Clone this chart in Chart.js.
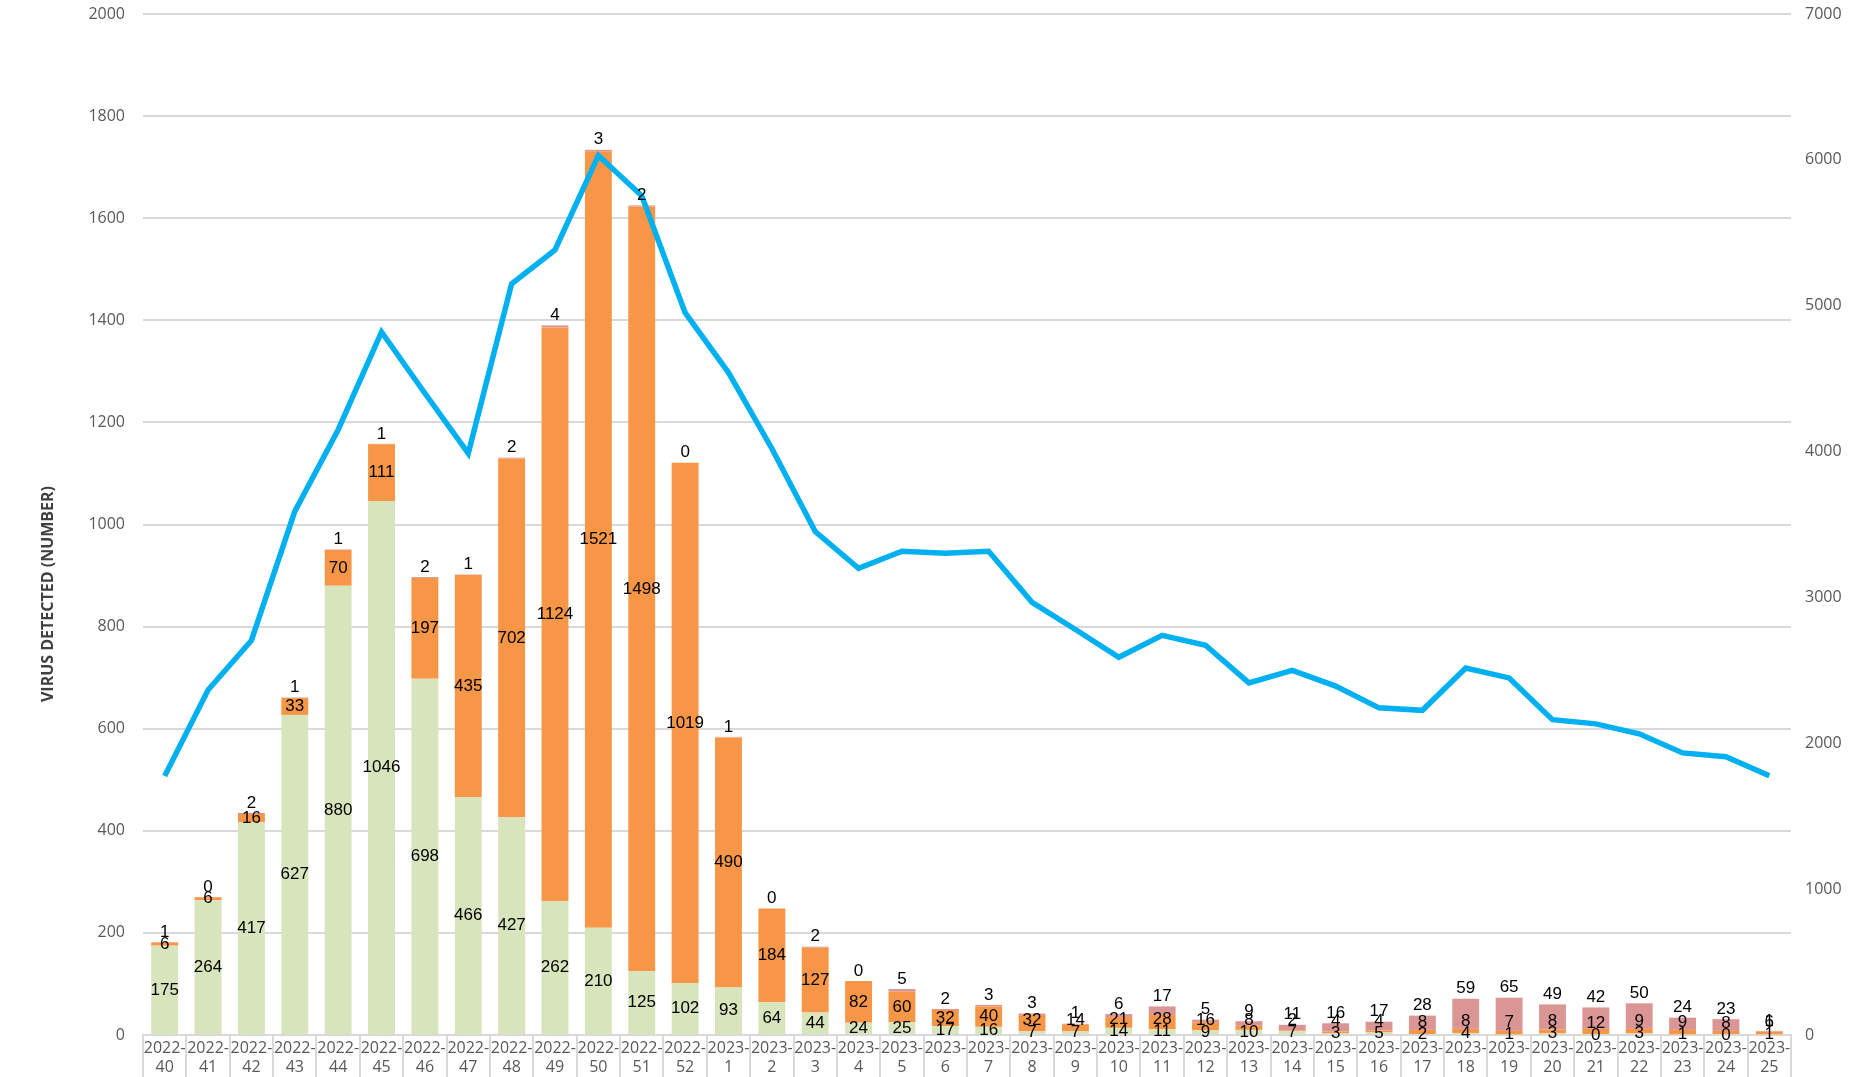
<!DOCTYPE html>
<html>
<head>
<meta charset="utf-8">
<script src="https://cdn.jsdelivr.net/npm/chart.js@4.4.1/dist/chart.umd.min.js"></script>
<style>
  html, body { margin: 0; padding: 0; background: #fff; }
  #wrap { width: 1865px; height: 1077px; }
</style>
</head>
<body>
<div id="wrap"><canvas id="chart"></canvas></div>
<script>
// ISO weeks, 2022-40 .. 2023-25
const weeks = [
    '2022-40', '2022-41', '2022-42', '2022-43', '2022-44', '2022-45', '2022-46',
    '2022-47', '2022-48', '2022-49', '2022-50', '2022-51', '2022-52',
    '2023-1', '2023-2', '2023-3', '2023-4', '2023-5', '2023-6', '2023-7',
    '2023-8', '2023-9', '2023-10', '2023-11', '2023-12', '2023-13', '2023-14',
    '2023-15', '2023-16', '2023-17', '2023-18', '2023-19', '2023-20', '2023-21',
    '2023-22', '2023-23', '2023-24', '2023-25'
];

// stacked bars, left axis (number of detections)
const greenValues = [
    175, 264, 417, 627, 880, 1046, 698, 466, 427, 262, 210, 125, 102,
    93, 64, 44, 24, 25, 17, 16, 7, 7, 14, 11, 9, 10, 7, 3, 5, 2, 4, 1, 3, 0, 3, 1, 0, 1
];
const orangeValues = [
    6, 6, 16, 33, 70, 111, 197, 435, 702, 1124, 1521, 1498, 1019,
    490, 184, 127, 82, 60, 32, 40, 32, 14, 21, 28, 16, 8, 2, 4, 4, 8, 8, 7, 8, 12, 9, 9, 8, 6
];
const pinkValues = [
    1, 0, 2, 1, 1, 1, 2, 1, 2, 4, 3, 2, 0,
    1, 0, 2, 0, 5, 2, 3, 3, 1, 6, 17, 5, 9, 11, 16, 17, 28, 59, 65, 49, 42, 50, 24, 23, 1
];

// line, right axis
const lineValues = [
    1775, 2365, 2705, 3590, 4150, 4820, 4400, 3988, 5150, 5382, 6030, 5754, 4952,
    4542, 4021, 3452, 3200, 3317, 3303, 3317, 2966, 2780, 2590, 2740, 2672, 2414,
    2500, 2392, 2243, 2226, 2516, 2448, 2162, 2133, 2065, 1934, 1908, 1778
];

const leftTicks = { min: 0, max: 2000, step: 200 };
const rightTicks = { min: 0, max: 7000, step: 1000 };
const yTitle = 'VIRUS DETECTED (NUMBER)';

const tickFont = { family: '"Open Sans", sans-serif', size: 16 };
const tickColor = '#595959';
const gridColor = '#D9D9D9';
const plainNumber = v => String(v);

// value labels on the stacked segments
const barLabels = {
    id: 'barLabels',
    afterDatasetsDraw(chart) {
        const ctx = chart.ctx;
        const g = chart.getDatasetMeta(0).data;
        const o = chart.getDatasetMeta(1).data;
        const p = chart.getDatasetMeta(2).data;
        ctx.save();
        ctx.font = '17px "Liberation Sans", sans-serif';
        ctx.fillStyle = '#000';
        ctx.textAlign = 'center';
        ctx.textBaseline = 'middle';
        g.forEach((bar, i) => {
            const gy = (bar.y + bar.base) / 2;
            const oy = Math.min((o[i].y + o[i].base) / 2, gy - 12);
            const py = p[i].y - 10;
            ctx.fillText(String(greenValues[i]), bar.x, gy);
            ctx.fillText(String(orangeValues[i]), o[i].x, oy);
            ctx.fillText(String(pinkValues[i]), p[i].x, py);
        });
        ctx.restore();
    }
};

const axisTitle = {
    id: 'axisTitle',
    afterDraw(chart) {
        const ctx = chart.ctx;
        ctx.save();
        ctx.translate(48, 594);
        ctx.rotate(-Math.PI / 2);
        ctx.font = 'bold 16px "Open Sans", sans-serif';
        ctx.fillStyle = '#404040';
        ctx.textAlign = 'center';
        ctx.textBaseline = 'middle';
        ctx.fillText(yTitle, 0, 0);
        ctx.restore();
    }
};

const barCommon = {
    type: 'bar',
    yAxisID: 'y',
    stack: 'virus',
    borderWidth: 0,
    categoryPercentage: 1,
    barPercentage: 0.62,
    order: 1
};

// fixed axis boxes so the plot area sits where the reference has it
const fixVertical = width => scale => {
    scale.width = width;
    scale.paddingTop = 0;
    scale.paddingBottom = 0;
};

new Chart(document.getElementById('chart'), {
    data: {
        labels: weeks.map(w => [w.split('-')[0] + '-', w.split('-')[1]]),
        datasets: [
            { ...barCommon, label: 'green', data: greenValues, backgroundColor: '#D8E4BC' },
            { ...barCommon, label: 'orange', data: orangeValues, backgroundColor: '#F79646' },
            { ...barCommon, label: 'pink', data: pinkValues, backgroundColor: '#DA9694' },
            {
                type: 'line',
                label: 'line',
                data: lineValues,
                yAxisID: 'y1',
                borderColor: '#00B0F0',
                borderWidth: 5.5,
                pointRadius: 0,
                tension: 0,
                fill: false,
                order: 0
            }
        ]
    },
    options: {
        responsive: true,
        maintainAspectRatio: false,
        animation: false,
        layout: { padding: { top: 14, left: 0, right: 0, bottom: 0 } },
        plugins: {
            legend: { display: false },
            tooltip: { enabled: false }
        },
        scales: {
            x: {
                stacked: true,
                offset: true,
                grid: {
                    offset: true,
                    drawOnChartArea: false,
                    drawTicks: true,
                    tickLength: 42,
                    color: gridColor,
                    lineWidth: 2
                },
                border: { color: gridColor, width: 2 },
                ticks: {
                    font: { ...tickFont, size: 16, lineHeight: 1.2 },
                    color: tickColor,
                    padding: -38,
                    maxRotation: 0,
                    autoSkip: false
                },
                afterFit(scale) {
                    scale.height = 42;
                    scale.paddingLeft = 0;
                    scale.paddingRight = 0;
                }
            },
            y: {
                stacked: true,
                position: 'left',
                min: leftTicks.min,
                max: leftTicks.max,
                ticks: {
                    stepSize: leftTicks.step,
                    font: tickFont,
                    color: tickColor,
                    padding: 18,
                    callback: plainNumber
                },
                grid: { color: gridColor, lineWidth: 2, drawTicks: false },
                border: { display: false },
                afterFit: fixVertical(143)
            },
            y1: {
                position: 'right',
                min: rightTicks.min,
                max: rightTicks.max,
                ticks: {
                    stepSize: rightTicks.step,
                    font: tickFont,
                    color: tickColor,
                    padding: 14,
                    callback: plainNumber
                },
                grid: { drawOnChartArea: false, drawTicks: false },
                border: { display: false },
                afterFit: fixVertical(74)
            }
        }
    },
    plugins: [barLabels, axisTitle]
});
</script>
</body>
</html>
